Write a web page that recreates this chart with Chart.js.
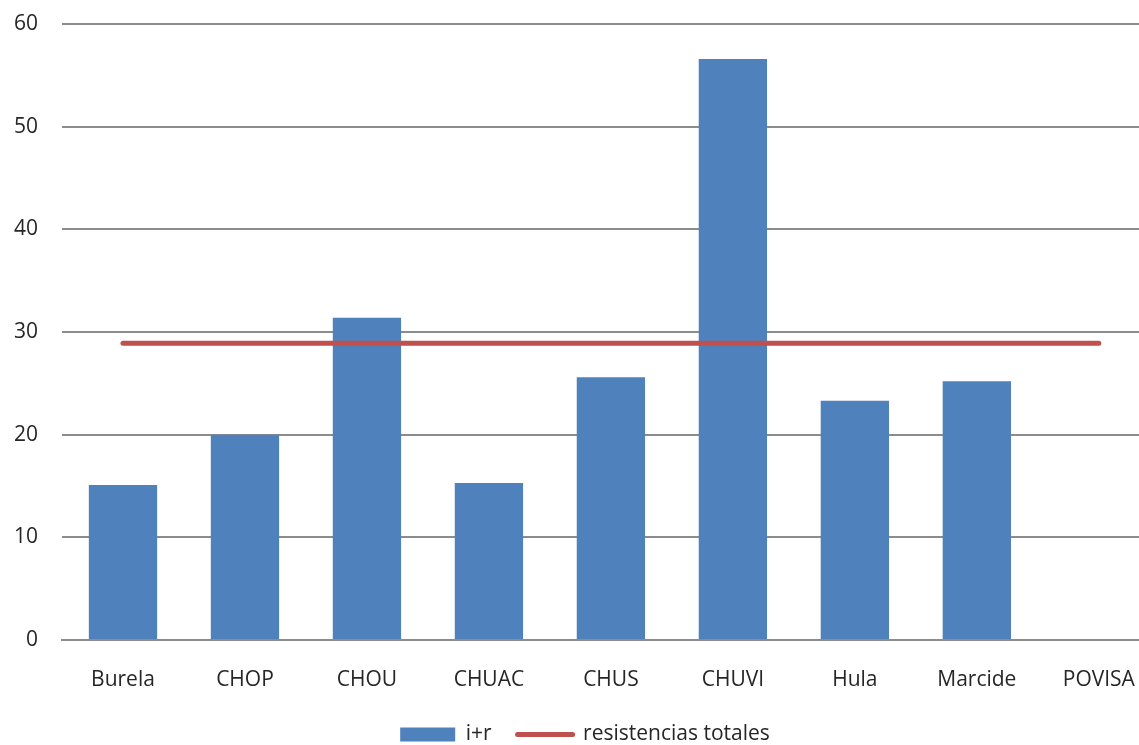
<!DOCTYPE html>
<html>
<head>
<meta charset="utf-8">
<script src="https://cdn.jsdelivr.net/npm/chart.js@4.4.1/dist/chart.umd.min.js"></script>
<style>
  html, body { margin: 0; padding: 0; background: #fff; overflow: hidden; }
  #wrap { width: 1162px; height: 755px; position: relative; }
</style>
</head>
<body>
<div id="wrap"><canvas id="c"></canvas></div>
<script>
// Hospitals on the category axis
const categories = ['Burela', 'CHOP', 'CHOU', 'CHUAC', 'CHUS', 'CHUVI', 'Hula', 'Marcide', 'POVISA'];
// i+r per hospital (POVISA has no bar)
const irValues = [15.1, 20.0, 31.4, 15.3, 25.6, 56.6, 23.3, 25.2, null];
// Overall resistance level, constant across hospitals
const totalResistance = [28.9, 28.9, 28.9, 28.9, 28.9, 28.9, 28.9, 28.9, 28.9];
const yTicks = [0, 10, 20, 30, 40, 50, 60];

const FONT = '"Open Sans", Lato, sans-serif';
const TEXT = '#262626';
const FONT_SIZE = 21;

new Chart(document.getElementById('c'), {
  data: {
    labels: categories,
    datasets: [
      {
        type: 'line',
        label: 'resistencias totales',
        data: totalResistance,
        borderColor: '#C0504D',
        backgroundColor: '#C0504D',
        borderWidth: 5,
        borderCapStyle: 'round',
        pointRadius: 0,
        pointHoverRadius: 0,
        order: 0
      },
      {
        type: 'bar',
        label: 'i+r',
        data: irValues,
        backgroundColor: '#4F81BD',
        borderWidth: 0,
        categoryPercentage: 1.0,
        barPercentage: 0.56,
        order: 1
      }
    ]
  },
  options: {
    responsive: true,
    maintainAspectRatio: false,
    animation: false,
    layout: { padding: { top: 24, right: 2, left: 10, bottom: 0 } },
    plugins: {
      tooltip: { enabled: false },
      legend: {
        position: 'bottom',
        labels: {
          usePointStyle: true,
          pointStyleWidth: 55,
          boxHeight: 14,
          padding: 26,
          color: TEXT,
          font: { family: FONT, size: FONT_SIZE },
          generateLabels(chart) {
            // bar entry first, then the line entry
            const order = [1, 0];
            return order.map(i => {
              const ds = chart.data.datasets[i];
              const isLine = ds.type === 'line';
              return {
                text: ds.label,
                datasetIndex: i,
                fillStyle: ds.backgroundColor,
                strokeStyle: isLine ? ds.borderColor : ds.backgroundColor,
                lineWidth: isLine ? 5 : 0,
                lineCap: 'round',
                pointStyle: isLine ? 'line' : 'rect',
                fontColor: TEXT,
                hidden: false
              };
            });
          }
        }
      }
    },
    scales: {
      x: {
        grid: { display: false, drawTicks: false },
        border: { display: true, color: '#8c8c8c', width: 2 },
        ticks: {
          color: TEXT,
          font: { family: FONT, size: FONT_SIZE },
          padding: 27,
          maxRotation: 0,
          autoSkip: false
        },
        afterFit(scale) { scale.height = 58; }
      },
      y: {
        min: 0,
        max: 60,
        afterBuildTicks(scale) { scale.ticks = yTicks.map(v => ({ value: v })); },
        grid: { color: '#8c8c8c', lineWidth: 2, drawTicks: false },
        border: { display: false },
        ticks: {
          color: TEXT,
          font: { family: FONT, size: FONT_SIZE },
          padding: 24
        },
        afterFit(scale) {
          scale.width = 52;
          scale.paddingTop = 0;
          scale.paddingBottom = 0;
        }
      }
    }
  }
});
</script>
</body>
</html>
